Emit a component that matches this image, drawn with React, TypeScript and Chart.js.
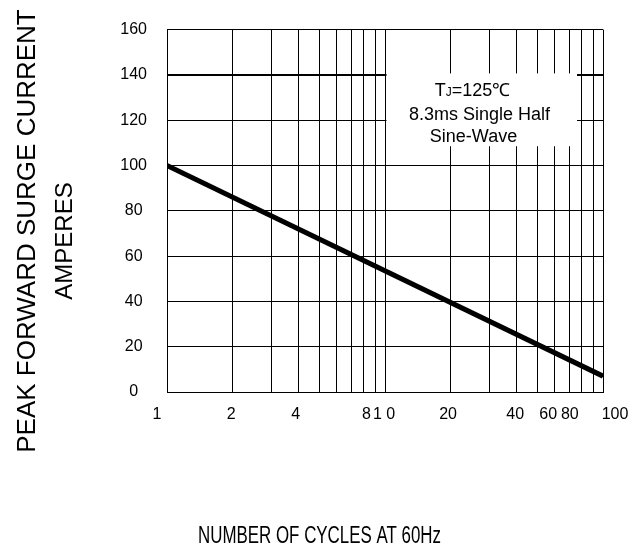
import { useEffect, useRef } from 'react';
import { Chart, registerables } from 'chart.js';

Chart.register(...registerables);

// ---- data ----
const cycles = [1, 100];
const surgeCurrent = [100, 7];
const xGridValues = [1, 2, 3, 4, 5, 6, 7, 8, 9, 10, 20, 30, 40, 50, 60, 70, 80, 90, 100];
const xLabelValues = [1, 2, 4, 8, 10, 20, 40, 60, 80, 100];
const xLabelTexts = ['1', '2', '4', '8', '1 0', '20', '40', '60', '80', '100'];
const yTickValues = [0, 20, 40, 60, 80, 100, 120, 140, 160];
const yTitleLines = ['PEAK FORWARD SURGE CURRENT', 'AMPERES'];
const xTitle = 'NUMBER OF CYCLES AT 60Hz';
const noteFirstLine = ['T', 'J', '=125\u2103'];
const noteLines = ['8.3ms Single Half', 'Sine-Wave'];

// ---- style (label nudges in px, as placed in the original drawing) ----
const xLabelShift = [-10, -1.5, -2.5, 2.5, -1, -2.5, -1, -6.5, -12, 12];

const FONT = '"Liberation Sans", Arial, Helvetica, sans-serif';

const textPlugin = {
  id: 'surgeTexts',
  beforeDraw(chart: any) {
    const x = chart.scales.x;
    if (!x || typeof x.getLabelItems !== 'function') return;
    const items = x.getLabelItems(chart.chartArea);
    for (const item of items) {
      const idx = xLabelTexts.indexOf(String(item.label));
      if (idx >= 0 && item.options && item.options.translation) {
        item.options.translation = [item.options.translation[0] + xLabelShift[idx], item.options.translation[1]];
      }
    }
  },
  beforeDatasetsDraw(chart: any) {
    const { ctx } = chart;
    const x = chart.scales.x;
    const y = chart.scales.y;
    const left = x.getPixelForValue(10) + 1.5;
    const right = x.getPixelForValue(76);
    const top = y.getPixelForValue(140) - 1.5;
    const bottom = y.getPixelForValue(108.5);
    ctx.save();
    ctx.fillStyle = '#ffffff';
    ctx.fillRect(left, top, right - left, bottom - top);
    ctx.fillStyle = '#000000';
    ctx.textBaseline = 'alphabetic';
    ctx.textAlign = 'left';
    ctx.font = `18px ${FONT}`;
    const wT = ctx.measureText(noteFirstLine[0]).width;
    const wRest = ctx.measureText(noteFirstLine[2]).width;
    ctx.font = `12px ${FONT}`;
    const wJ = ctx.measureText(noteFirstLine[1]).width;
    const b1 = top + 23;
    let sx = left + 86 - (wT + wJ + wRest) / 2;
    ctx.font = `18px ${FONT}`;
    ctx.fillText(noteFirstLine[0], sx, b1);
    sx += wT;
    ctx.font = `12px ${FONT}`;
    ctx.fillText(noteFirstLine[1], sx, b1);
    sx += wJ;
    ctx.font = `18px ${FONT}`;
    ctx.fillText(noteFirstLine[2], sx, b1);
    ctx.textAlign = 'center';
    ctx.fillText(noteLines[0], left + 93, top + 46.5);
    ctx.fillText(noteLines[1], left + 87, top + 69);
    ctx.restore();
  },
  afterDraw(chart: any) {
    const { ctx } = chart;
    ctx.save();
    ctx.fillStyle = '#000000';
    ctx.textAlign = 'center';
    ctx.textBaseline = 'alphabetic';
    ctx.save();
    ctx.translate(35, 231);
    ctx.rotate(-Math.PI / 2);
    ctx.font = `26px ${FONT}`;
    ctx.fillText(yTitleLines[0], 0, 0);
    ctx.restore();
    ctx.save();
    ctx.translate(72, 241);
    ctx.rotate(-Math.PI / 2);
    ctx.font = `24px ${FONT}`;
    ctx.fillText(yTitleLines[1], 0, 0);
    ctx.restore();
    ctx.save();
    ctx.font = `23px ${FONT}`;
    const w = ctx.measureText(xTitle).width;
    ctx.translate(319.5, 543.3);
    ctx.scale(243 / w, 1);
    ctx.fillText(xTitle, 0, 0);
    ctx.restore();
    ctx.restore();
  },
};

export default function App() {
  const canvasRef = useRef<HTMLCanvasElement | null>(null);

  useEffect(() => {
    const canvas = canvasRef.current;
    if (!canvas) return;
    const chart = new Chart(canvas, {
      type: 'line',
      data: {
        datasets: [
          {
            data: cycles.map((c, i) => ({ x: c, y: surgeCurrent[i] })),
            borderColor: '#000000',
            borderWidth: 5,
            pointRadius: 0,
            tension: 0,
            fill: false,
          },
        ],
      },
      options: {
        animation: false,
        responsive: false,
        layout: { padding: { top: 28, right: 39, left: 0, bottom: 0 } },
        plugins: {
          legend: { display: false },
          tooltip: { enabled: false },
        },
        scales: {
          x: {
            type: 'logarithmic',
            min: 1,
            max: 100,
            afterFit: (s: any) => {
              s.height = 156;
            },
            afterBuildTicks: (s: any) => {
              s.ticks = xGridValues.map((v) => ({ value: v }));
            },
            grid: { color: '#000000', lineWidth: 1, drawTicks: false },
            border: { display: true, color: '#000000', width: 1 },
            ticks: {
              autoSkip: false,
              maxRotation: 0,
              minRotation: 0,
              padding: 13,
              color: '#000000',
              font: { family: FONT, size: 16 },
              callback: (value: any) => {
                const idx = xLabelValues.indexOf(Number(value));
                return idx >= 0 ? xLabelTexts[idx] : '';
              },
            },
          },
          y: {
            type: 'linear',
            min: 0,
            max: 160,
            afterFit: (s: any) => {
              s.width = 167;
            },
            afterBuildTicks: (s: any) => {
              s.ticks = yTickValues.map((v) => ({ value: v }));
            },
            grid: {
              color: '#000000',
              lineWidth: (c: any) => (c.tick && c.tick.value === 140 ? 2 : 1),
              drawTicks: false,
            },
            border: { display: true, color: '#000000', width: 1 },
            ticks: {
              padding: 20,
              crossAlign: 'center',
              color: '#000000',
              font: { family: FONT, size: 16 },
              callback: (value: any) => String(value),
            },
          },
        },
      },
      plugins: [textPlugin],
    } as any);
    return () => {
      chart.destroy();
    };
  }, []);

  return (
    <div style={{ position: 'absolute', left: 0, top: 0, width: 642, height: 548, background: '#ffffff' }}>
      <canvas ref={canvasRef} width={642} height={548} style={{ display: 'block', width: 642, height: 548 }} />
    </div>
  );
}
